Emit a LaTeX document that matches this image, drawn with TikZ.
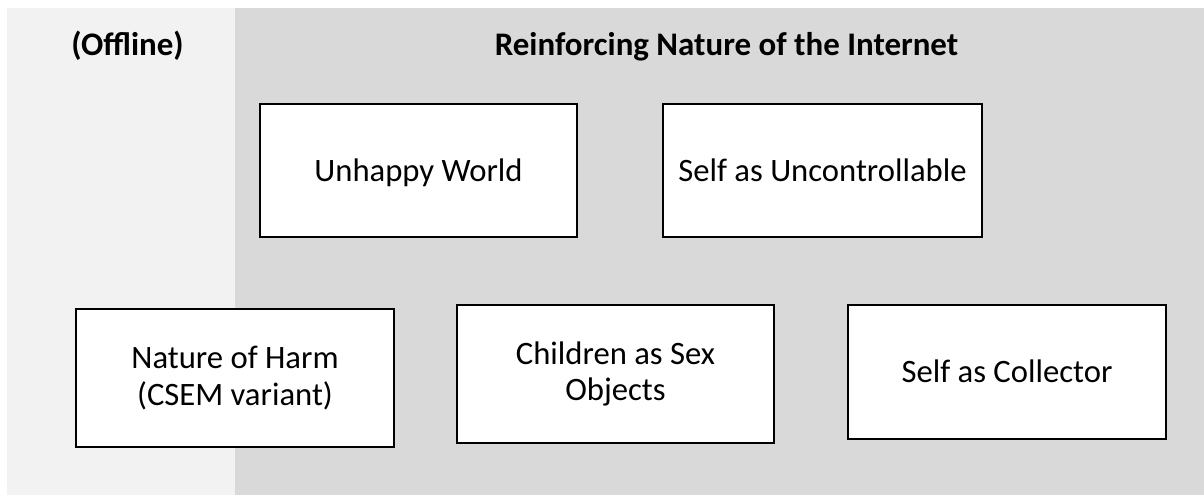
\documentclass[tikz,border=0pt]{standalone}
\usepackage{fontspec}
\setmainfont{Carlito}
\definecolor{lightpanel}{HTML}{F2F2F2}
\definecolor{darkpanel}{HTML}{D9D9D9}
\begin{document}
\begin{tikzpicture}[x=0.75pt,y=-0.75pt,
  box/.style={draw=black, line width=1.1pt, fill=white, align=center,
    font=\fontsize{24.5}{27.5}\selectfont, inner sep=0pt},
  oneline/.style={text height=15.8pt, text depth=0pt},
  ttl/.style={font=\bfseries\fontsize{24.7}{29}\selectfont, anchor=base, inner sep=0pt}]
\useasboundingbox (0,0) rectangle (1204,495);
\fill[white] (0,0) rectangle (1204,495);
\fill[lightpanel] (7,8) rectangle (235,495);
\fill[darkpanel] (235,8) rectangle (1204,495);
\node[ttl] (off) at (127.5,56) {(Offline)};
\node[ttl] (rni) at (726.5,56) {Reinforcing Nature of the Internet};
\node[box, oneline, minimum width=237.75pt, minimum height=99.75pt] (uw) at (418.5,170.5) {Unhappy World};
\node[box, oneline, minimum width=239.25pt, minimum height=99.75pt] (su) at (822.5,170.5) {Self as Uncontrollable};
\node[box, minimum width=238.5pt, minimum height=103.5pt] (nh) at (235,378) {Nature of Harm\\(CSEM variant)};
\node[box, minimum width=237.75pt, minimum height=103.5pt] (cs) at (615.5,374) {Children as Sex\\Objects};
\node[box, oneline, minimum width=238.5pt, minimum height=100.5pt] (sc) at (1007,372) {Self as Collector};
\end{tikzpicture}
\end{document}
